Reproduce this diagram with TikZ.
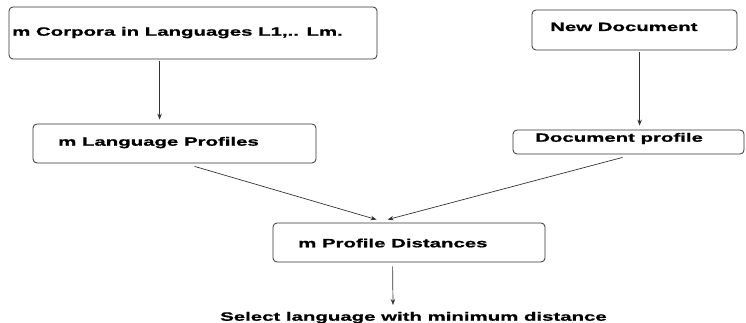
\documentclass[tikz,border=0pt]{standalone}
\usepackage{fontspec}
\setmainfont{Liberation Sans}[FakeStretch=1.7, BoldFeatures={FakeBold=1}]
\usetikzlibrary{arrows.meta}

\definecolor{linegray}{HTML}{333333}

\tikzset{
  panel/.style={draw=linegray, line width=0.8pt, rounded corners=4pt, inner sep=0pt},
  caption/.style={anchor=base west, inner sep=0pt, font=\fontsize{12}{14}\selectfont\bfseries},
  flow/.style={draw=linegray, line width=0.7pt, -{Stealth[length=6pt,width=4.5pt]}}
}

\begin{document}
\begin{tikzpicture}[x=1pt,y=-1pt]

  \useasboundingbox (0,0) rectangle (746,323);

  \node[panel, minimum width=368pt, minimum height=52pt] (corpora)  at (193,33)    {};
  \node[panel, minimum width=205pt, minimum height=40pt] (newdoc)   at (634.5,30)  {};
  \node[panel, minimum width=283pt, minimum height=39pt] (langprof) at (174.5,143.5) {};
  \node[panel, minimum width=231pt, minimum height=24pt] (docprof)  at (628.5,142) {};
  \node[panel, minimum width=272pt, minimum height=39pt] (profdist) at (409,242.5) {};

  \node[caption] (corporaText)  at (12,35.7)   {m Corpora in Languages L1,.. Lm.};
  \node[caption] (newdocText)   at (550,31)    {New Document};
  \node[caption] (langprofText) at (58,145.7)  {m Language Profiles};
  \node[caption] (docprofText)  at (535,141.7) {Document profile};
  \node[caption] (profdistText) at (298,247.3) {m Profile Distances};
  \node[caption] (select)       at (220,320.7) {Select language with minimum distance};

  \draw[flow] ([xshift=151pt,yshift=-2pt]corpora.south west) -- ([xshift=127pt,yshift=4pt]langprof.north west);
  \draw[flow] ([xshift=108pt,yshift=-2pt]newdoc.south west) -- ([xshift=127pt,yshift=4pt]docprof.north west);
  \draw[flow] ([xshift=162pt,yshift=-3pt]langprof.south west) -- ([xshift=104pt,yshift=3pt]profdist.north west);
  \draw[flow] ([xshift=110pt,yshift=-3pt]docprof.south west) -- ([xshift=115pt,yshift=3pt]profdist.north west);
  \draw[flow] ([xshift=120pt,yshift=-4pt]profdist.south west) -- ([xshift=173pt,yshift=15.7pt]select.base west);

\end{tikzpicture}
\end{document}
